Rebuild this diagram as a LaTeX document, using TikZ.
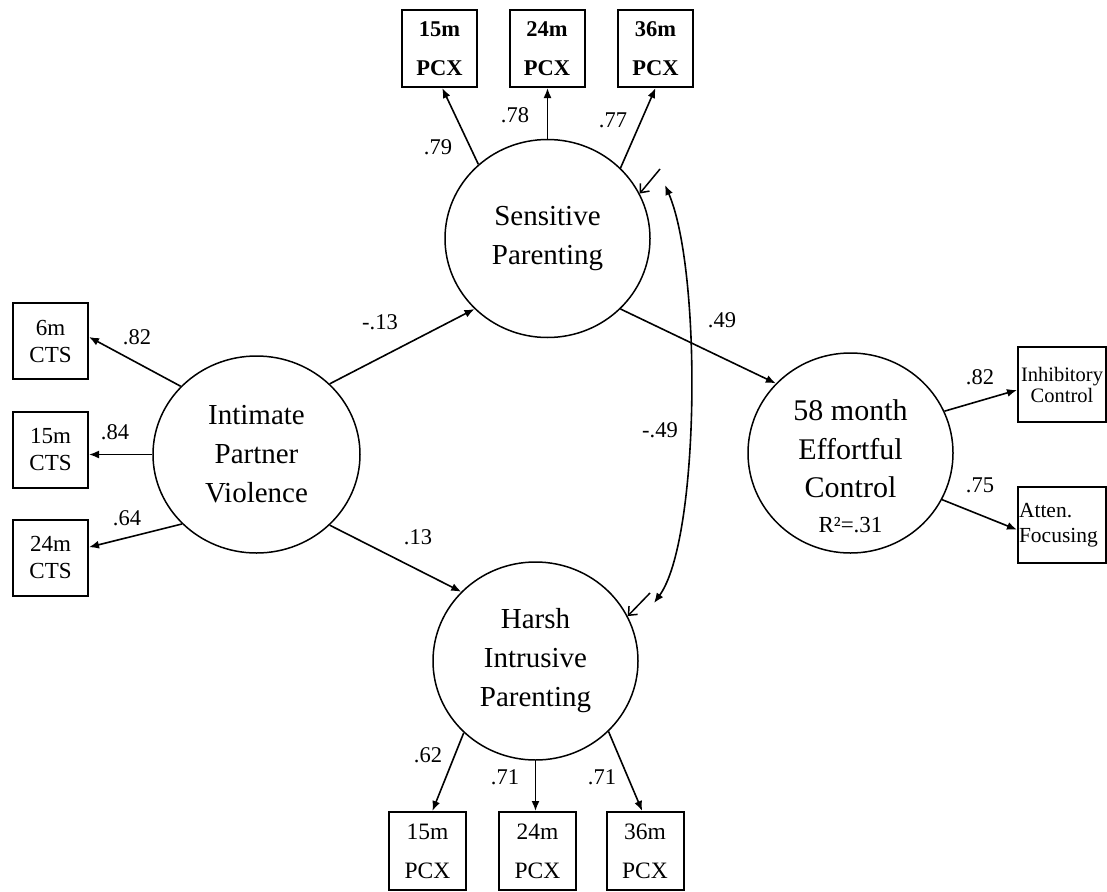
\documentclass[tikz,border=0pt]{standalone}
\usepackage{fontspec}
\setmainfont{Liberation Serif}
\usetikzlibrary{shapes.geometric,arrows.meta}
\begin{document}
\begin{tikzpicture}[x=1pt,y=-1pt,
  lat/.style={ellipse,draw,line width=1.5pt,inner sep=0pt,minimum width=205pt,minimum height=198pt,align=center,font=\fontsize{29}{39}\selectfont},
  obs/.style={draw,line width=2pt,inner sep=0pt,minimum width=75pt,minimum height=77pt,align=center,font=\fontsize{23.5}{39}\selectfont},
  obsl/.style={obs,font=\fontsize{23}{27}\selectfont},
  pth/.style={line width=1.6pt,-{Latex[length=10pt,width=8pt]}},
  lab/.style={font=\fontsize{22.5}{26}\selectfont,inner sep=0pt},
  res/.style={line width=1.5pt,-{Straight Barb[length=7pt,width=12pt]}},
  cor/.style={line width=1.6pt,{Latex[length=10pt,width=8pt]}-{Latex[length=10pt,width=8pt]}},
]
\useasboundingbox (0,0) rectangle (1107,891);
\fill[white] (0,0) rectangle (1107,891);

% latent variables
\node[lat] (sp) at (547.5,238.5) {Sensitive\\Parenting};
\node[lat,minimum width=207pt,minimum height=197pt] (ipv) at (256.5,454.5) {Intimate\\Partner\\Violence};
\node[lat] (hp) at (535.5,661) {Harsh\\Intrusive\\Parenting};
\node[lat,minimum height=200pt] (ec) at (850.5,453) {};
\node[align=center,inner sep=0pt,font=\fontsize{30}{38.5}\selectfont] (ect) at (850.5,466)
  {58 month\\Effortful\\Control\\[-4pt]{\fontsize{23}{26}\selectfont R²=.31}};

% top indicators
\node[obs,font=\bfseries\fontsize{22.5}{39}\selectfont] (tb1) at (439.5,48.5) {15m\\PCX};
\node[obs,font=\bfseries\fontsize{22.5}{39}\selectfont] (tb2) at (547,48.5) {24m\\PCX};
\node[obs,font=\bfseries\fontsize{22.5}{39}\selectfont] (tb3) at (655.5,48.5) {36m\\PCX};

% left indicators
\node[obsl,minimum height=76pt] (lb1) at (50.5,341) {6m\\CTS};
\node[obsl,minimum height=76pt] (lb2) at (50.5,449.5) {15m\\CTS};
\node[obsl,minimum height=76pt] (lb3) at (50.5,557.5) {24m\\CTS};

% right indicators
\node[obs,minimum width=88pt,minimum height=75pt,font=\fontsize{20.5}{21}\selectfont] (rb1) at (1062,384.5) {Inhibitory\\Control};
\node[obs,minimum width=88pt,minimum height=76pt,text width=86pt,align=left,font=\fontsize{21.5}{25}\selectfont] (rb2) at (1062,525) {Atten.\\Focusing};

% bottom indicators
\node[obs,minimum width=77pt,minimum height=78pt] (bb1) at (427.5,851) {15m\\PCX};
\node[obs,minimum width=77pt,minimum height=78pt] (bb2) at (537.5,851) {24m\\PCX};
\node[obs,minimum width=77pt,minimum height=78pt] (bb3) at (645,851) {36m\\PCX};

% measurement paths
\draw[pth] (sp.133) -- (tb1.274);
\draw[pth] (sp.north) -- (sp.north |- tb2.south);
\draw[pth] (sp.44) -- (tb3.south);
\draw[pth] (ipv.138) -- (lb1.6);
\draw[pth] (ipv.west) -- (ipv.west -| lb2.east);
\draw[pth] (ipv.223.5) -- (lb3.15);
\draw[pth] (ec.24) -- (rb1.187);
\draw[pth] (ec.333) -- (rb2.186.5);
\draw[pth] (hp.225) -- (bb1.83);
\draw[pth] (hp.south) -- (hp.south |- bb2.north);
\draw[pth] (hp.316.4) -- (bb3.94);

% structural paths
\draw[pth] (ipv.44) -- (sp.224);
\draw[pth] (ipv.316.5) -- (hp.137);
\draw[pth] (sp.316.6) -- (ec.137);

% residuals
\coordinate (rs) at (660,169);
\coordinate (rh) at (650,593);
\draw[res] (rs) -- (sp.26);
\draw[res] (rh) -- (hp.26);

% correlation
\coordinate (cvtop) at (665,185);
\coordinate (cvbot) at (654,603);
\draw[cor] (cvtop) .. controls (702,270) and (700,540) .. (cvbot);

% labels
\node[lab] (l79) at (438,147) {.79};
\node[lab] (l78) at (515,115) {.78};
\node[lab] (l77) at (613,120) {.77};
\node[lab] (l82a) at (137,337) {.82};
\node[lab] (l84) at (115,432) {.84};
\node[lab] (l64) at (127,518) {.64};
\node[lab] (lm13) at (380,322) {-.13};
\node[lab] (l13) at (418,537) {.13};
\node[lab] (l49) at (722,320) {.49};
\node[lab] (lm49) at (660,430) {-.49};
\node[lab] (l82b) at (980,377) {.82};
\node[lab] (l75) at (980,485) {.75};
\node[lab] (l62) at (428,755) {.62};
\node[lab] (l71a) at (505,777) {.71};
\node[lab] (l71b) at (602,777) {.71};
\end{tikzpicture}
\end{document}
